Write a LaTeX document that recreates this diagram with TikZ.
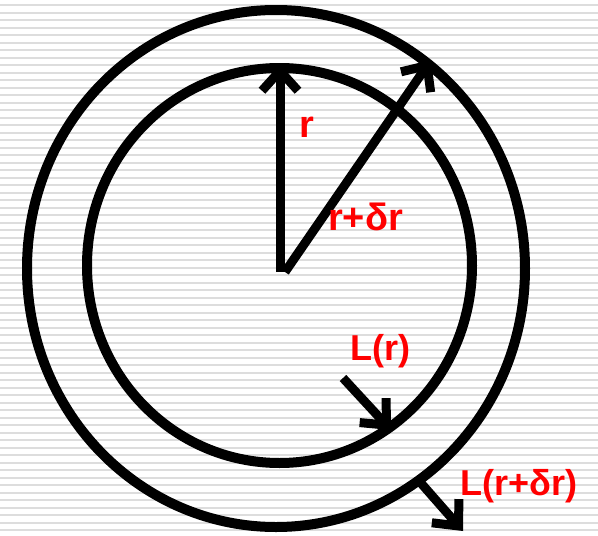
\documentclass[tikz,border=0pt]{standalone}
\usepackage{fontspec}
\setmainfont{Liberation Sans}
\usetikzlibrary{arrows.meta}
\definecolor{stripegray}{RGB}{221,221,221}
\definecolor{labred}{RGB}{255,0,0}
\tikzset{
  stripe/.style={draw=stripegray, line width=2pt},
  ring/.style={draw=black, line width=10pt},
  vec/.style={draw=black, line width=9pt, -{Straight Barb[length=20pt,width=36pt]}},
  lab/.style={text=labred, font=\fontsize{38}{40}\selectfont\bfseries, inner sep=0pt, anchor=base west},
  labsmall/.style={lab, font=\fontsize{36}{40}\selectfont\bfseries},
}
\begin{document}
\begin{tikzpicture}[x=1pt,y=-1pt]
  \useasboundingbox (0,0) rectangle (598,536);
  \fill[white] (0,0) rectangle (598,536);
  \foreach \k in {0,...,71} \draw[stripe] (0,{5+7.5*\k}) -- (598,{5+7.5*\k});
  % rings
  \draw[ring] (279.5,265.5) ellipse [x radius=192.5, y radius=197.5];
  \draw[ring] (276,268.5) ellipse [x radius=249, y radius=258.5];
  % coordinates
  \coordinate (O) at (280,272);
  \coordinate (Od) at (285,272);
  \coordinate (Ttop) at (280,64);
  \coordinate (Tdiag) at (431,60);
  \coordinate (LrS) at (343,378);
  \coordinate (LrT) at (391,430);
  \coordinate (LdS) at (420,482);
  \coordinate (LdT) at (463,531);
  % vectors
  \draw[vec] (O) -- (Ttop);
  \draw[vec] (Od) -- (Tdiag);
  \draw[vec] (LrS) -- (LrT);
  \draw[vec] (LdS) -- (LdT);
  % labels
  \node[lab] (lr) at (299,137) {r};
  \node[lab] (lrd) at (328,230) {r+δr};
  \node[labsmall] (lL) at (350,360) {L(r)};
  \node[labsmall] (lLd) at (460,495) {L(r+δr)};
\end{tikzpicture}
\end{document}
